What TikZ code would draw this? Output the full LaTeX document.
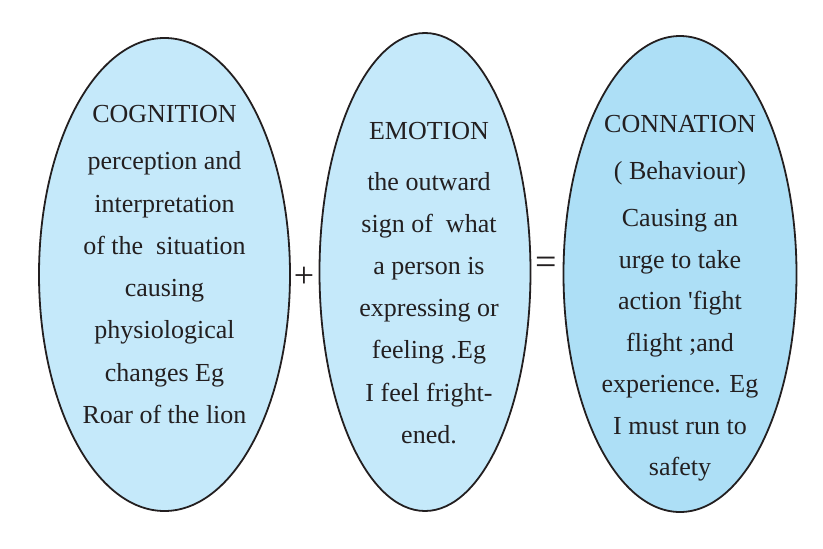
\documentclass[tikz,border=0pt]{standalone}
\usepackage{fontspec}
\setmainfont{Liberation Serif}
\usetikzlibrary{shapes.geometric}
\definecolor{lightblue}{HTML}{C5E9FA}
\definecolor{midblue}{HTML}{ADDFF6}
\definecolor{ink}{HTML}{231F20}
\begin{document}
\begin{tikzpicture}[x=1pt,y=-1pt,
  bubble/.style={ellipse, draw=ink, line width=1.8pt, inner sep=0pt},
  txt/.style={text=ink, align=center, inner sep=0pt, anchor=north},
  sym/.style={text=ink, inner sep=0pt}]
\useasboundingbox (0,0) rectangle (823,549);
\node[bubble, fill=lightblue, minimum width=251pt, minimum height=473pt] (cog) at (164.5,274.5) {};
\node[bubble, fill=lightblue, minimum width=211pt, minimum height=478pt] (emo) at (425,272) {};
\node[bubble, fill=midblue, minimum width=233pt, minimum height=476pt] (con) at (680,274) {};
\node[txt, font=\fontsize{26}{42.3}\selectfont] (cogtext) at (164.5,105) {COGNITION\\[5pt] perception and\\ interpretation\\ of the\ \ situation\\ causing\\ physiological\\ changes Eg\\ Roar of the lion};
\node[txt, font=\fontsize{26}{42.2}\selectfont] (emotext) at (429,122) {EMOTION\\[8.5pt] the outward\\ sign of\ \ what\\ a person is\\ expressing or\\ feeling .Eg\\ I feel fright-\\ ened.};
\node[txt, font=\fontsize{26}{41.5}\selectfont] (context) at (680,115) {CONNATION\\[5.5pt] ( Behaviour)\\[6pt] Causing an\\ urge to take\\ action \textquotesingle fight\\ flight ;and\\ experience. Eg\\ I must run to\\ safety};
\node[sym, font=\fontsize{36}{36}\selectfont] (plus) at (304,277) {+};
\node[sym, font=\fontsize{38}{38}\selectfont] (equals) at (546,265.5) {=};
\end{tikzpicture}
\end{document}
